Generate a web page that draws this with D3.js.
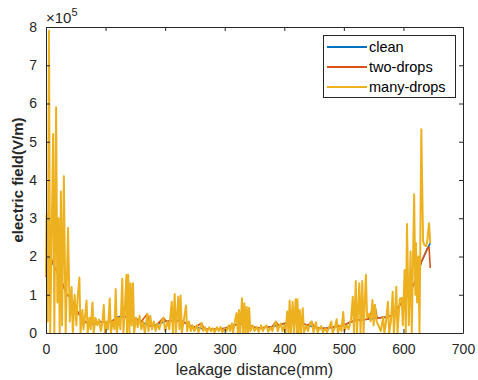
<!DOCTYPE html>
<html>
<head>
<meta charset="utf-8">
<script src="https://cdn.jsdelivr.net/npm/d3@7"></script>
<style>
  body { margin: 0; background: #fff; }
  svg { font-family: "Liberation Sans", Arial, sans-serif; }
</style>
</head>
<body>
<svg id="chart" width="478" height="380"></svg>
<script>
// values in units of 1e5 V/m, x in mm
const seriesNames = ['clean', 'two-drops', 'many-drops'];
const seriesColors = ['#0072BD', '#D95319', '#EDB120'];

const clean = [
  [0, 1.6], [3, 2.1], [6, 2.05], [10, 1.85], [15, 1.7], [20, 1.55], [25, 1.4], [30, 1.2], [35, 1.0],
  [40, 0.95], [45, 0.8], [50, 0.65], [55, 0.5], [60, 0.4], [65, 0.3], [70, 0.25], [80, 0.22],
  [90, 0.3], [100, 0.28], [110, 0.3], [120, 0.42], [130, 0.45], [140, 0.4], [150, 0.38], [160, 0.3],
  [170, 0.2], [180, 0.18], [190, 0.25], [200, 0.3], [210, 0.32], [220, 0.33], [230, 0.3], [240, 0.2],
  [250, 0.15], [260, 0.12], [270, 0.1], [280, 0.1], [290, 0.1], [300, 0.12], [310, 0.18], [320, 0.22],
  [330, 0.25], [340, 0.2], [350, 0.15], [360, 0.13], [370, 0.15], [380, 0.17], [390, 0.2], [400, 0.25],
  [410, 0.27], [420, 0.28], [430, 0.25], [440, 0.2], [450, 0.15], [460, 0.12], [470, 0.12], [480, 0.15],
  [490, 0.18], [500, 0.2], [510, 0.28], [520, 0.33], [530, 0.35], [540, 0.36], [550, 0.38], [560, 0.4],
  [570, 0.42], [580, 0.45], [590, 0.65], [600, 0.85], [610, 1.05], [620, 1.35], [630, 1.85], [640, 2.2],
  [645, 2.35]
];

const twoDrops = [
  [0, 1.46], [3, 2.43], [6, 2.1], [10, 1.9], [15, 1.7], [20, 1.55], [25, 1.4], [30, 1.2], [35, 1.0],
  [40, 0.95], [45, 0.8], [50, 0.65], [55, 0.5], [60, 0.4], [65, 0.3], [70, 0.25], [80, 0.22],
  [90, 0.3], [100, 0.28], [110, 0.3], [120, 0.4], [130, 0.42], [140, 0.4], [150, 0.38], [160, 0.3],
  [170, 0.5], [175, 0.2], [185, 0.2], [197, 0.4], [202, 0.3], [210, 0.32], [220, 0.33], [230, 0.3],
  [240, 0.2], [250, 0.15], [261, 0.26], [265, 0.12], [270, 0.1], [280, 0.1], [290, 0.1], [300, 0.12],
  [310, 0.18], [320, 0.22], [330, 0.25], [340, 0.2], [350, 0.15], [360, 0.13], [370, 0.15], [380, 0.17],
  [386, 0.3], [390, 0.2], [400, 0.25], [410, 0.27], [420, 0.28], [430, 0.25], [440, 0.2], [446, 0.3],
  [450, 0.15], [460, 0.12], [470, 0.12], [480, 0.15], [490, 0.18], [500, 0.2], [510, 0.28], [520, 0.33],
  [530, 0.35], [540, 0.36], [552, 0.73], [556, 0.38], [566, 0.42], [570, 0.4], [580, 0.45], [590, 0.65],
  [600, 0.85], [610, 1.05], [620, 1.35], [630, 1.85], [640, 2.2], [643, 2.25], [645, 1.7]
];

const manyDrops = [
  [0, 1.5], [1, 3.1], [3, 0.3], [5, 7.9], [7, 0], [9, 2.0], [12, 5.2], [14, 0], [17, 5.9], [19, 0.8],
  [21, 3.0], [23, 0], [25, 3.7], [27, 0.2], [30, 4.1], [33, 0], [37, 2.75], [40, 0.3], [43, 1.2], [45, 0],
  [48, 1.0], [51, 0.2], [53, 0.9], [56, 1.45], [58, 0], [61, 0.6], [63, 0.1], [66, 0.5], [68, 0.85], [70, 0],
  [73, 0.4], [75, 0.1], [78, 0.8], [80, 0], [83, 0.4], [86, 0.2], [89, 0.35], [92, 0.05], [95, 0.3], [97, 0.73],
  [99, 0], [102, 0.3], [104, 0.1], [107, 0.9], [109, 0], [112, 0.3], [115, 0.1], [117, 1.15], [119, 0], [122, 0.4],
  [125, 0.1], [128, 1.42], [130, 0], [132, 0.5], [135, 1.52], [136, 0], [138, 1.52], [140, 0], [142, 1.3], [144, 0.2],
  [146, 1.3], [148, 0], [151, 0.4], [154, 0.15], [157, 0.45], [160, 0.1], [163, 0.3], [166, 0], [170, 0.5], [172, 0.05],
  [175, 0.45], [178, 0.1], [181, 0.3], [184, 0.05], [187, 0.25], [190, 0.1], [194, 0.3], [197, 0.4], [200, 0.05], [204, 0.3],
  [207, 0.1], [211, 0.82], [213, 0], [216, 1.02], [218, 0], [222, 0.95], [224, 0.1], [226, 0.98], [228, 0], [232, 0.4],
  [235, 0.72], [237, 0.05], [240, 0.3], [243, 0.05], [246, 0.2], [249, 0.05], [253, 0.2], [256, 0.02], [259, 0.15], [261, 0.26],
  [264, 0.05], [267, 0.15], [270, 0.02], [274, 0.15], [277, 0.05], [280, 0.12], [283, 0.02], [287, 0.15], [290, 0.05], [293, 0.16],
  [296, 0.02], [300, 0.12], [303, 0.05], [307, 0.2], [309, 0.05], [312, 0.25], [314, 0], [317, 0.3], [320, 0.52], [322, 0],
  [324, 0.6], [326, 0], [329, 0.91], [331, 0], [333, 0.78], [335, 0], [337, 0.68], [339, 0], [341, 0.66], [343, 0.05],
  [347, 0.2], [350, 0.05], [354, 0.15], [357, 0.03], [361, 0.2], [364, 0.05], [367, 0.15], [370, 0.2], [373, 0.03], [377, 0.15],
  [380, 0.05], [383, 0.2], [386, 0.3], [389, 0.05], [392, 0.2], [394, 0.25], [397, 0.05], [400, 0.2], [402, 0], [405, 0.56],
  [407, 0], [409, 0.85], [411, 0], [414, 0.82], [416, 0], [419, 0.88], [421, 0], [422, 0.88], [424, 0], [426, 0.6],
  [428, 0], [431, 0.65], [433, 0], [437, 0.2], [440, 0.05], [443, 0.25], [446, 0.3], [449, 0.02], [453, 0.28], [456, 0.02],
  [459, 0.12], [462, 0.18], [465, 0.02], [469, 0.12], [472, 0.02], [475, 0.15], [479, 0.3], [481, 0], [485, 0.15], [488, 0.36],
  [490, 0], [494, 0.2], [496, 0.05], [499, 0.55], [501, 0.05], [505, 0.2], [508, 0.1], [512, 0.35], [515, 0.95], [517, 0],
  [520, 1.36], [522, 0], [526, 1.3], [528, 0], [531, 1.36], [533, 0], [537, 1.52], [539, 0.4], [542, 0.5], [545, 0.3],
  [548, 0.86], [550, 0.2], [552, 0.73], [555, 0.3], [558, 0.2], [562, 0.05], [566, 0.42], [568, 0], [571, 0.3], [574, 0.82],
  [576, 0], [579, 0.3], [582, 1.08], [584, 0], [586, 0.5], [588, 1.21], [590, 0], [594, 0.9], [597, 0.92], [599, 0.2],
  [602, 1.65], [604, 0], [606, 2.85], [609, 0.2], [612, 2.13], [614, 0], [618, 3.63], [620, 1.0], [621, 2.35], [623, 0.8],
  [625, 2.0], [627, 0], [630, 5.33], [633, 2.4], [635, 2.3], [638, 2.27], [640, 2.4], [643, 2.87], [645, 2.35]
];

const xTicks = [0, 100, 200, 300, 400, 500, 600, 700];
const yTicks = [0, 1, 2, 3, 4, 5, 6, 7, 8];

const MARGINS = { top: 27, bottom: 47, left: 46, right: 15 };
const width = 478, height = 380;
const axisColor = '#262626';

const svg = d3.select('#chart');

const x = d3.scaleLinear().domain([0, 700]).range([MARGINS.left, width - MARGINS.right]);
const y = d3.scaleLinear().domain([0, 8]).range([height - MARGINS.bottom, MARGINS.top]);

const line = d3.line().x(d => x(d[0])).y(d => y(d[1]));

const data = [clean, twoDrops, manyDrops];
svg.append('g').attr('class', 'lines')
  .selectAll('path')
  .data(data)
  .join('path')
  .attr('fill', 'none')
  .attr('stroke', (d, i) => seriesColors[i])
  .attr('stroke-width', (d, i) => i === 2 ? 2 : 1.6)
  .attr('stroke-linejoin', 'round')
  .attr('d', line);

// axes (MATLAB style: box, ticks inside on all sides)
const tickLen = 4;
const axisX = svg.append('g').attr('transform', `translate(0,${y(0)})`)
  .call(d3.axisBottom(x).tickValues(xTicks).tickSizeInner(-tickLen).tickSizeOuter(0).tickPadding(11));
const axisY = svg.append('g').attr('transform', `translate(${x(0)},0)`)
  .call(d3.axisLeft(y).tickValues(yTicks).tickSizeInner(-tickLen).tickSizeOuter(0).tickPadding(9));
const axisTop = svg.append('g').attr('transform', `translate(0,${y(8)})`)
  .call(d3.axisTop(x).tickValues(xTicks).tickSizeInner(-tickLen).tickSizeOuter(0).tickFormat(''));
const axisRight = svg.append('g').attr('transform', `translate(${x(700)},0)`)
  .call(d3.axisRight(y).tickValues(yTicks).tickSizeInner(-tickLen).tickSizeOuter(0).tickFormat(''));

[axisX, axisY, axisTop, axisRight].forEach(a => {
  a.selectAll('.domain').attr('stroke', axisColor);
  a.selectAll('line').attr('stroke', axisColor);
  a.selectAll('text').attr('fill', axisColor).attr('font-size', 14)
    .attr('font-family', '"Liberation Sans", Arial, sans-serif');
});

// exponent label
const expo = svg.append('text').attr('x', x(0)).attr('y', 23)
  .attr('fill', axisColor).attr('font-size', 15);
expo.append('tspan').text('\u00d710');
expo.append('tspan').attr('font-size', 11).attr('dy', -7).text('5');

// axis titles
svg.append('text')
  .attr('x', (x(0) + x(700)) / 2).attr('y', 375)
  .attr('text-anchor', 'middle').attr('font-size', 16).attr('fill', axisColor)
  .text('leakage distance(mm)');

svg.append('text')
  .attr('transform', `translate(23,${(y(0) + y(8)) / 2}) rotate(-90)`)
  .attr('text-anchor', 'middle').attr('font-size', 15).attr('font-weight', 'bold').attr('fill', axisColor)
  .text('electric field(V/m)');

// legend
const legend = svg.append('g').attr('class', 'legend');
legend.append('rect')
  .attr('x', 323.5).attr('y', 35.5).attr('width', 132).attr('height', 62)
  .attr('fill', '#fff').attr('stroke', axisColor).attr('stroke-width', 1);
seriesNames.forEach((name, i) => {
  const cy = 47 + i * 20;
  legend.append('line')
    .attr('x1', 327).attr('x2', 367).attr('y1', cy).attr('y2', cy)
    .attr('stroke', seriesColors[i]).attr('stroke-width', 2);
  legend.append('text')
    .attr('x', 369).attr('y', cy + 5)
    .attr('font-size', 14.5).attr('fill', '#000')
    .text(name);
});
</script>
</body>
</html>
